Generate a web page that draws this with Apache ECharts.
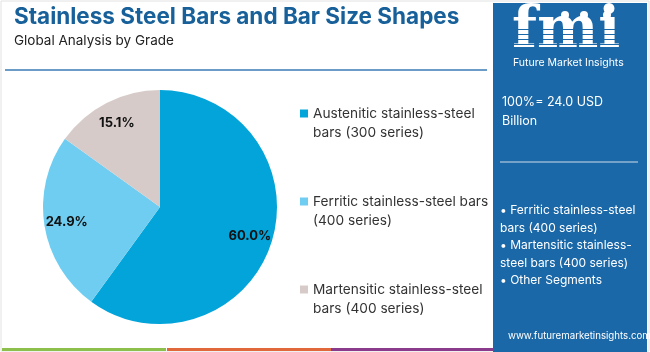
<!DOCTYPE html>
<html>
<head>
<meta charset="utf-8">
<script src="https://cdn.jsdelivr.net/npm/echarts@6/dist/echarts.min.js"></script>
<style>
  html, body { margin: 0; padding: 0; background: #fff; }
  #chart { width: 650px; height: 352px; }
</style>
</head>
<body>
<div id="chart"></div>
<script>
// 饼图 - grade split
const categories = [
  "Austenitic stainless-steel\nbars (300 series)",
  "Ferritic stainless-steel bars\n(400 series)",
  "Martensitic stainless-steel\nbars (400 series)"
];
const shares = [60.0, 24.9, 15.1];
const colors = ["#02a4da", "#6fcdf1", "#d6cbc8"];
const panelTotal = "100%= 24.0 USD\nBillion";
const panelSegments = [
  "\u2022 Ferritic stainless-steel",
  "bars (400 series)",
  "\u2022 Martensitic stainless-",
  "steel bars (400 series)",
  "\u2022 Other Segments"
];

const font = "Inter, 'Noto Sans', sans-serif";
const panelBlue = "#1b68a8";

let myChart = echarts.init(document.getElementById("chart"));

const pieData = categories.map((name, i) => ({
  name: name,
  value: shares[i],
  itemStyle: { color: colors[i] }
}));

myChart.setOption({
  animation: false,
  textStyle: { fontFamily: font },
  title: {
    text: "Stainless Steel Bars and Bar Size Shapes",
    subtext: "Global Analysis by Grade",
    left: 9,
    top: 1,
    itemGap: 5,
    textStyle: { fontSize: 22.5, fontWeight: "bold", color: "#17609a", fontFamily: font },
    subtextStyle: { fontSize: 13.5, color: "#222", fontFamily: font }
  },
  legend: {
    orient: "vertical",
    left: 300,
    top: 85,
    padding: 0,
    itemGap: 31,
    itemWidth: 8,
    itemHeight: 8,
    icon: "rect",
    selectedMode: false,
    // 空行让色块对齐第一行
    formatter: name => "\n" + name,
    textStyle: {
      fontSize: 13.7,
      color: "#333",
      lineHeight: 19,
      fontFamily: font
    }
  },
  series: [
    {
      type: "pie",
      center: [160, 207],
      radius: 117,
      startAngle: 90,
      clockwise: true,
      silent: true,
      label: { show: false },
      labelLine: { show: false },
      data: pieData
    },
    {
      // 透明层, 只负责标签位置
      type: "pie",
      center: [160, 207],
      radius: [66, 117],
      startAngle: 90,
      clockwise: true,
      silent: true,
      z: 5,
      itemStyle: { color: "rgba(0,0,0,0)" },
      label: {
        show: true,
        position: "inside",
        formatter: p => p.value.toFixed(1) + "%",
        fontSize: 13,
        fontWeight: "bold",
        color: "#111",
        fontFamily: font
      },
      labelLine: { show: false },
      data: categories.map((name, i) => ({ name: name, value: shares[i] }))
    }
  ],
  graphic: [
    // frame
    { type: "rect", shape: { x: 1, y: 1, width: 648, height: 350 }, style: { fill: null, stroke: "#e2e2e2", lineWidth: 1 }, z: 0 },
    // rule under title
    { type: "line", shape: { x1: 5, y1: 70, x2: 487, y2: 70 }, style: { stroke: "#3a7ab5", lineWidth: 1.5 } },
    // bottom stripes
    { type: "rect", shape: { x: 2, y: 348, width: 164, height: 3 }, style: { fill: "#8cbf4c" } },
    { type: "rect", shape: { x: 167, y: 348, width: 164, height: 3 }, style: { fill: "#e0683b" } },
    { type: "rect", shape: { x: 331, y: 348, width: 163, height: 3 }, style: { fill: "#8b3b8c" } },
    // right panel
    { type: "rect", shape: { x: 493, y: 3, width: 154, height: 349 }, style: { fill: panelBlue }, z: 10 },
    // logo
    {
      type: "text", left: 512, top: 3, z: 11,
      style: { text: "fmi", fill: "#fff", font: "bold 58px 'DejaVu Serif', serif" }
    },
    { type: "rect", shape: { x: 510, y: 29, width: 118, height: 1 }, style: { fill: panelBlue }, z: 12 },
    { type: "rect", shape: { x: 510, y: 34, width: 118, height: 1 }, style: { fill: panelBlue }, z: 12 },
    { type: "rect", shape: { x: 510, y: 39, width: 118, height: 1 }, style: { fill: panelBlue }, z: 12 },
    { type: "rect", shape: { x: 510, y: 44, width: 118, height: 1 }, style: { fill: panelBlue }, z: 12 },
    { type: "rect", shape: { x: 510, y: 49, width: 118, height: 1 }, style: { fill: panelBlue }, z: 12 },
    { type: "circle", shape: { cx: 565, cy: 15, r: 4 }, style: { fill: "#fff" }, z: 12 },
    { type: "circle", shape: { cx: 584, cy: 15, r: 4 }, style: { fill: "#fff" }, z: 12 },
    { type: "circle", shape: { cx: 607, cy: 15, r: 4 }, style: { fill: "#fff" }, z: 12 },
    {
      type: "text", left: 513, top: 57, z: 11,
      style: { text: "Future Market Insights", fill: "#fff", font: "10.5px " + font }
    },
    // panel texts
    {
      type: "text", left: 502, top: 93, z: 11,
      style: { text: panelTotal, fill: "#fff", font: "12.5px " + font, lineHeight: 19 }
    },
    { type: "line", shape: { x1: 500, y1: 162, x2: 638, y2: 162 }, style: { stroke: "#d0dcea", lineWidth: 1.2 }, z: 11 },
    {
      type: "text", left: 500, top: 202, z: 11,
      style: { text: panelSegments.join("\n"), fill: "#fff", font: "12px " + font, lineHeight: 17.4 }
    },
    {
      type: "text", left: 508, top: 331, z: 11,
      style: { text: "www.futuremarketinsights.com", fill: "#fff", font: "9.7px " + font }
    }
  ]
});
</script>
</body>
</html>
